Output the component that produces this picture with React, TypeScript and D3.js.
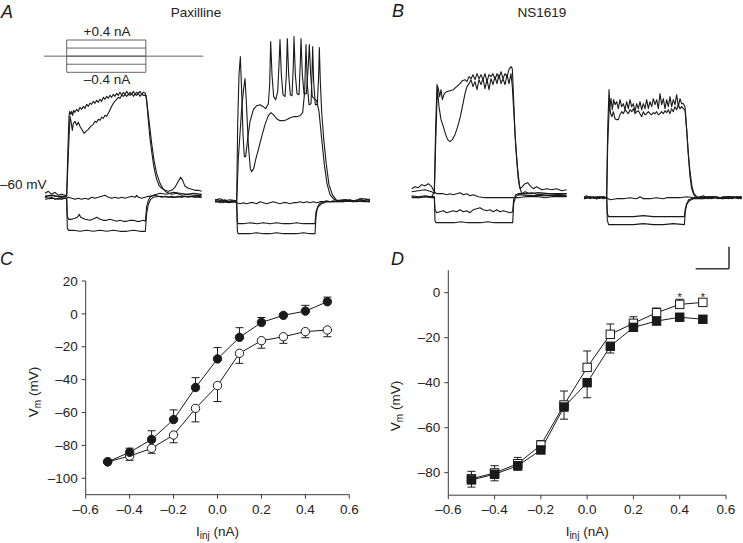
import React from 'react';
import * as d3 from 'd3';

type P = [number, number];

// ---------- Panel A / B traces: time (ms, 0 = step onset), membrane potential (mV) ----------
const AL1: P[] = [[-130,-55],[-110,-53],[-90,-56],[-70,-54],[-50,-57],[-30,-56],[-10,-57],[0,-57],[8,-8],[14,22],[18,27],[24,24],[30,27],[36,23],[42,28],[50,26],[60,29],[70,27],[80,31],[90,29],[100,32],[110,30],[120,34],[130,32],[140,35],[150,34],[160,37],[170,35],[180,38],[190,36],[200,39],[210,37],[220,41],[230,39],[240,42],[250,40],[260,43],[270,41],[280,44],[290,42],[300,45],[310,43],[320,46],[330,43],[340,46],[350,44],[360,47],[370,44],[380,46],[390,44],[400,47],[410,44],[420,46],[430,45],[440,47],[450,44],[460,46],[472,45],[480,38],[490,18],[500,0],[510,-13],[520,-25],[530,-34],[540,-41],[554,-47],[570,-50],[590,-52],[610,-53],[630,-52],[650,-49],[670,-43],[684,-39],[696,-42],[710,-48],[730,-50],[750,-51],[770,-52],[790,-52],[810,-53]];
const AL2: P[] = [[-130,-58],[-100,-57],[-70,-58],[-40,-58],[0,-58],[12,-8],[20,22],[26,17],[34,8],[40,15],[50,17],[60,13],[70,16],[80,12],[90,9],[104,5],[116,7],[130,9],[144,12],[160,14],[170,17],[180,16],[190,19],[200,18],[210,21],[220,20],[230,23],[240,22],[256,27],[270,32],[284,36],[300,39],[310,41],[320,40],[330,43],[340,42],[350,44],[360,42],[370,44],[380,43],[390,45],[400,42],[410,44],[420,43],[430,45],[440,42],[450,44],[460,43],[476,43],[484,32],[496,15],[510,-5],[524,-22],[540,-35],[560,-45],[580,-51],[600,-54],[630,-56],[660,-55],[690,-57],[720,-56],[760,-57],[810,-57]];
const AL3: P[] = [[-130,-59],[-110,-60],[-90,-59],[-70,-61],[-50,-60],[-30,-61],[-10,-60],[0,-60],[10,-59],[30,-60],[50,-61],[70,-60],[90,-61],[110,-60],[130,-61],[150,-59],[170,-60],[190,-59],[210,-58],[230,-57],[250,-59],[270,-60],[290,-59],[310,-60],[330,-59],[350,-60],[370,-59],[390,-58],[410,-59],[420,-57],[430,-59],[450,-60],[470,-59],[490,-58],[510,-58],[530,-57],[550,-58],[570,-59],[590,-58],[610,-59],[630,-58],[650,-59],[670,-58],[690,-59],[710,-58],[730,-59],[750,-58],[770,-59],[790,-58],[810,-59]];
const AL4: P[] = [[-130,-58],[-80,-57],[-40,-59],[0,-60],[4,-78],[12,-81],[30,-81],[50,-80],[64,-79],[76,-76],[84,-79],[110,-81],[140,-82],[170,-80],[180,-79],[200,-81],[220,-82],[240,-82],[260,-81],[280,-82],[300,-83],[320,-82],[340,-83],[360,-83],[380,-82],[400,-82],[420,-83],[440,-83],[460,-82],[472,-83],[480,-68],[490,-62],[504,-58],[520,-57],[540,-56],[560,-55],[600,-56],[640,-54],[680,-55],[720,-56],[760,-55],[810,-56]];
const AL5: P[] = [[-130,-61],[-90,-60],[-50,-61],[-10,-60],[0,-60],[4,-90],[12,-92],[40,-92],[80,-93],[120,-92],[160,-93],[200,-92],[240,-93],[280,-92],[320,-93],[360,-93],[400,-92],[440,-93],[472,-93],[480,-75],[490,-66],[504,-61],[520,-59],[560,-58],[640,-59],[720,-58],[810,-59]];

const AR1: P[] = [[-130,-58],[-100,-57],[-70,-59],[-40,-58],[0,-59],[6,17],[14,67],[22,85],[30,50],[38,7],[46,-15],[54,-15],[66,3],[80,20],[100,32],[120,36],[140,37],[160,35],[174,33],[190,38],[198,57],[204,100],[212,67],[222,45],[234,42],[246,50],[254,77],[260,102],[268,67],[278,47],[290,45],[298,67],[304,103],[312,67],[322,47],[332,46],[340,77],[344,105],[352,67],[362,48],[374,47],[382,80],[386,103],[394,67],[404,48],[418,48],[430,77],[436,97],[444,67],[454,45],[466,43],[480,41],[494,30],[510,3],[526,-23],[542,-42],[560,-53],[580,-57],[600,-59],[650,-58],[700,-59],[750,-57],[800,-58]];
const AR2: P[] = [[-130,-60],[-90,-59],[-50,-61],[0,-60],[10,-17],[30,33],[42,53],[50,63],[58,40],[70,-3],[82,-27],[90,-30],[102,-27],[114,-18],[130,-8],[150,5],[170,17],[190,26],[206,29],[220,27],[240,23],[260,21],[280,21],[300,22],[320,24],[340,25],[360,25],[380,26],[396,29],[408,50],[416,97],[424,57],[434,37],[446,38],[452,67],[456,95],[462,60],[472,37],[484,37],[492,67],[496,94],[502,60],[510,30],[522,3],[538,-23],[554,-43],[574,-53],[596,-58],[620,-60],[670,-59],[720,-60],[770,-59],[800,-60]];
const AR3: P[] = [[-130,-59],[-110,-58],[-90,-60],[-70,-58],[-50,-60],[-30,-59],[-10,-60],[0,-61],[20,-62],[40,-61],[60,-62],[80,-61],[100,-61],[120,-62],[140,-60],[160,-61],[180,-62],[200,-61],[220,-60],[240,-61],[260,-62],[280,-61],[300,-61],[320,-62],[340,-61],[360,-61],[380,-60],[400,-61],[420,-60],[440,-61],[460,-60],[480,-61],[500,-60],[520,-60],[540,-59],[560,-60],[580,-59],[600,-60],[620,-59],[640,-60],[660,-59],[680,-58],[700,-60],[720,-59],[740,-57],[760,-59],[780,-58],[800,-59]];
const AR4: P[] = [[-130,-60],[-90,-59],[-50,-60],[-10,-59],[0,-60],[4,-80],[8,-82],[40,-82],[80,-81],[120,-82],[160,-81],[200,-82],[240,-81],[280,-82],[320,-82],[360,-81],[400,-82],[440,-82],[470,-82],[476,-70],[490,-65],[510,-62],[540,-60],[580,-60],[640,-59],[700,-60],[760,-59],[800,-60]];
const AR5: P[] = [[-130,-60],[-90,-61],[-50,-60],[-10,-60],[0,-60],[4,-89],[8,-92],[40,-92],[80,-92],[120,-91],[160,-92],[200,-92],[240,-91],[280,-92],[320,-92],[360,-92],[400,-91],[440,-92],[470,-92],[476,-75],[484,-66],[496,-62],[520,-60],[580,-60],[640,-60],[700,-59],[760,-60],[800,-60]];

const BL1: P[] = [[-136,-52],[-116,-50],[-96,-51],[-76,-48],[-56,-49],[-36,-47],[-16,-50],[0,-55],[8,10],[16,52],[24,48],[32,40],[40,47],[48,37],[60,43],[74,45],[94,46],[114,47],[134,50],[154,53],[168,56],[184,57],[196,55],[208,60],[220,58],[232,62],[244,57],[256,63],[268,58],[280,62],[292,57],[304,63],[316,55],[328,62],[340,60],[352,63],[364,57],[376,63],[388,58],[400,65],[412,58],[424,63],[436,60],[448,67],[460,70],[468,68],[476,37],[484,3],[494,-23],[504,-43],[514,-52],[528,-50],[544,-47],[560,-46],[574,-49],[594,-52],[614,-50],[644,-53],[674,-52],[704,-53],[734,-52],[764,-54],[794,-53]];
const BL2: P[] = [[-136,-55],[-96,-54],[-56,-53],[-16,-55],[0,-57],[8,-7],[18,48],[28,30],[40,17],[54,10],[68,2],[80,-3],[94,-5],[108,-3],[124,2],[140,10],[156,20],[172,33],[184,43],[196,50],[208,53],[220,57],[232,50],[244,55],[256,47],[268,57],[280,52],[292,58],[304,48],[316,57],[328,47],[340,58],[352,52],[364,60],[376,53],[388,62],[400,53],[412,58],[424,52],[436,62],[448,53],[460,63],[468,50],[476,27],[488,-7],[500,-33],[512,-50],[524,-57],[544,-55],[574,-57],[624,-56],[684,-57],[744,-57],[794,-57]];
const BL3: P[] = [[-136,-60],[-96,-61],[-56,-60],[-16,-60],[0,-55],[14,-57],[34,-57],[54,-57],[74,-58],[94,-57],[114,-58],[134,-57],[154,-56],[174,-58],[194,-57],[214,-59],[234,-58],[264,-60],[304,-61],[344,-61],[384,-61],[424,-61],[464,-61],[504,-61],[544,-60],[584,-60],[624,-60],[664,-61],[704,-60],[744,-60],[794,-60]];
const BL4: P[] = [[-136,-59],[-96,-60],[-56,-59],[-16,-60],[0,-60],[4,-73],[14,-76],[34,-75],[54,-74],[74,-76],[94,-75],[114,-74],[134,-75],[154,-73],[174,-75],[194,-74],[214,-76],[234,-73],[254,-72],[274,-71],[294,-73],[314,-74],[334,-73],[354,-75],[374,-73],[394,-75],[414,-74],[434,-75],[454,-76],[470,-75],[476,-63],[488,-58],[504,-57],[544,-57],[584,-56],[624,-58],[684,-57],[744,-58],[794,-57]];
const BL5: P[] = [[-136,-61],[-96,-61],[-56,-60],[-16,-61],[0,-61],[4,-84],[10,-86],[40,-86],[80,-86],[120,-86],[160,-85],[200,-86],[240,-86],[280,-86],[320,-85],[360,-86],[400,-86],[440,-86],[470,-86],[476,-67],[488,-60],[504,-58],[584,-59],[684,-59],[794,-59]];

const BR1: P[] = [[-136,-60],[-120,-58],[-100,-61],[-80,-59],[-60,-61],[-40,-59],[-20,-61],[0,-60],[6,8],[14,48],[20,31],[26,39],[34,28],[42,38],[50,33],[60,36],[70,29],[80,38],[90,31],[100,34],[110,28],[120,36],[130,29],[140,38],[150,31],[160,34],[170,26],[180,34],[190,29],[200,36],[210,28],[220,34],[230,29],[240,38],[250,29],[260,36],[270,31],[280,39],[290,33],[300,38],[310,29],[320,44],[330,33],[340,39],[350,29],[360,38],[370,31],[380,41],[390,31],[400,38],[410,33],[420,43],[430,31],[440,39],[450,34],[460,34],[470,31],[476,18],[484,-2],[492,-22],[500,-39],[510,-51],[520,-56],[532,-59],[550,-60],[580,-58],[610,-61],[640,-59],[670,-61],[700,-59],[730,-61],[760,-59],[790,-61],[810,-59]];
const BR2: P[] = [[-136,-61],[-100,-59],[-60,-61],[-20,-59],[0,-60],[6,-9],[16,34],[24,24],[32,21],[40,26],[50,19],[60,18],[70,18],[80,23],[90,26],[100,24],[110,28],[120,26],[130,24],[140,28],[150,26],[160,29],[170,24],[180,26],[190,27],[200,24],[210,21],[220,26],[230,23],[240,24],[250,26],[260,24],[270,23],[280,25],[290,24],[300,26],[310,23],[320,24],[330,26],[340,24],[350,27],[360,25],[370,28],[380,24],[390,29],[400,26],[410,31],[420,28],[430,33],[440,29],[450,31],[460,29],[470,28],[480,8],[490,-16],[500,-34],[512,-49],[524,-56],[540,-59],[570,-61],[600,-59],[630,-61],[660,-59],[690,-61],[720,-59],[750,-61],[780,-59],[810,-60]];
const BR3: P[] = [[-136,-59],[-100,-60],[-60,-59],[0,-60],[20,-62],[60,-61],[100,-61],[140,-60],[180,-61],[200,-59],[220,-61],[260,-61],[300,-60],[340,-61],[360,-60],[400,-60],[440,-60],[480,-59],[520,-60],[560,-59],[600,-60],[640,-59],[680,-60],[720,-59],[760,-60],[810,-59]];
const BR4: P[] = [[-136,-60],[-100,-59],[-60,-60],[-20,-59],[0,-60],[4,-76],[12,-79],[40,-79],[100,-79],[160,-79],[220,-78],[280,-79],[340,-79],[400,-79],[466,-79],[472,-71],[480,-66],[492,-62],[510,-61],[560,-60],[620,-59],[680,-60],[740,-59],[810,-60]];
const BR5: P[] = [[-136,-61],[-100,-60],[-60,-61],[-20,-60],[0,-60],[4,-83],[12,-87],[40,-87],[100,-87],[160,-87],[220,-86],[280,-87],[340,-87],[400,-86],[466,-87],[472,-74],[480,-67],[496,-63],[520,-61],[580,-61],[640,-60],[700,-61],[760,-60],[810,-61]];

// Stimulus protocol (nA)
const stimLevels = [0.4, 0.2, 0, -0.2, -0.4];
const stimWindow = [-136, 819];
const stimStep = [0, 475];

// Scale bar
const scaleBarMs = 200;
const scaleBarMv = 20;

// ---------- Panels C / D: I-V data ----------
const currents = [-0.5, -0.4, -0.3, -0.2, -0.1, 0, 0.1, 0.2, 0.3, 0.4, 0.5];
const xTicks = [-0.6, -0.4, -0.2, 0, 0.2, 0.4, 0.6];
const cYTicks = [20, 0, -20, -40, -60, -80, -100];
const dYTicks = [0, -20, -40, -60, -80];

const cFilled = [-90, -84.2, -76.4, -64.3, -44.8, -27.4, -14.3, -5.2, -0.9, 1.7, 7.4];
const cFilledErr = [0, 2.5, 5.3, 5.9, 6, 6.9, 5.9, 3, 1.2, 3.5, 2.8];
const cOpen = [-90, -86.5, -81.8, -73.7, -57.5, -43.6, -24, -16.3, -13.9, -10.8, -9.8];
const cOpenErr = [0, 2.6, 3, 4.7, 8.2, 9.7, 6.1, 4.6, 4, 3.7, 4.1];

const dFilled = [-83.2, -80.7, -76.9, -69.9, -50.8, -40, -23.8, -15.4, -12.6, -10.9, -11.8];
const dFilledErr = [3.2, 2.9, 2, 1, 5.4, 6.7, 3, 1, 0.5, 0.5, 0.5];
const dOpen = [-82.7, -80.1, -76, -67.7, -49.9, -33.2, -18.5, -13.6, -8.9, -5.2, -4.3];
const dOpenErr = [3.3, 3.2, 2.8, 2, 6.2, 7.3, 4.6, 2.9, 2.1, 2.3, 1.5];
const dStars = [0.4, 0.5];

const FONT = "'Liberation Sans', Arial, Helvetica, sans-serif";
const INK = '#1a1a1a';
const AXIS = '#3a3a3a';

function TraceGroup({ origin, traces }: { origin: [number, number]; traces: P[][] }) {
  const x = d3.scaleLinear().domain([0, 600]).range([origin[0], origin[0] + 100]);
  const y = d3.scaleLinear().domain([-60, 40]).range([origin[1], origin[1] - 100]);
  const line = d3.line<P>().x(d => x(d[0])).y(d => y(d[1]));
  return (
    <g>
      {traces.map((t, i) => (
        <path key={i} d={line(t) || ''} fill="none" stroke={INK} strokeWidth={1.1} strokeLinejoin="round" />
      ))}
    </g>
  );
}

const fmtX = (v: number) => {
  const s = d3.format('.1f')(Math.abs(v));
  return v < -1e-9 ? '\u2013' + s : s;
};
const fmtY = (v: number) => (v < 0 ? '\u2013' + Math.abs(v) : String(v));

function IVPanel(props: {
  x0: number; x1: number; yDomain: [number, number]; yTop: number; yBottom: number;
  yTicks: number[]; yTitleCenter: number; yTitleX: number;
  a: number[]; aErr: number[]; aDir: number;
  b: number[]; bErr: number[]; bDir: number;
  shape: 'circle' | 'square'; stars?: number[];
}) {
  const { x0, x1, yDomain, yTop, yBottom, yTicks, shape } = props;
  const x = d3.scaleLinear().domain([-0.6, 0.6]).range([x0, x1]);
  const y = d3.scaleLinear().domain(yDomain).range([yBottom, yTop]);
  const line = d3.line<number>().x((_, i) => x(currents[i])).y(d => y(d));
  const tickLen = 4;
  const fs = 13.5;

  const errBars = (vals: number[], errs: number[], dir: number, key: string) =>
    vals.map((v, i) => {
      if (errs[i] <= 0) return null;
      const yy = y(v + dir * errs[i]);
      const cx = x(currents[i]);
      return (
        <g key={key + i} stroke={INK} strokeWidth={1}>
          <line x1={cx} x2={cx} y1={y(v)} y2={yy} />
          <line x1={cx - 4} x2={cx + 4} y1={yy} y2={yy} />
        </g>
      );
    });

  const markers = (vals: number[], filled: boolean, key: string) =>
    vals.map((v, i) => {
      const cx = x(currents[i]);
      const cy = y(v);
      return shape === 'circle' ? (
        <circle key={key + i} cx={cx} cy={cy} r={4.2} fill={filled ? INK : '#fff'} stroke={INK} strokeWidth={1} />
      ) : (
        <rect key={key + i} x={cx - 4.2} y={cy - 4.2} width={8.4} height={8.4} fill={filled ? INK : '#fff'} stroke={INK} strokeWidth={1} />
      );
    });

  return (
    <g fontFamily={FONT} fill={INK}>
      {/* axes */}
      <line x1={x0} x2={x0} y1={yTop} y2={yBottom} stroke={AXIS} strokeWidth={1} />
      <line x1={x0} x2={x1} y1={yBottom} y2={yBottom} stroke={AXIS} strokeWidth={1} />
      {yTicks.map(t => (
        <g key={'yt' + t}>
          <line x1={x0 - tickLen} x2={x0} y1={y(t)} y2={y(t)} stroke={AXIS} />
          <text x={x0 - 8} y={y(t)} dy="0.35em" textAnchor="end" fontSize={fs} fill="#222">{fmtY(t)}</text>
        </g>
      ))}
      {xTicks.map(t => (
        <g key={'xt' + t}>
          <line x1={x(t)} x2={x(t)} y1={yBottom} y2={yBottom + tickLen} stroke={AXIS} />
          <text x={x(t)} y={yBottom + 19} textAnchor="middle" fontSize={fs} fill="#222">{fmtX(t)}</text>
        </g>
      ))}
      <text x={(x0 + x1) / 2} y={536} textAnchor="middle" fontSize={fs} fill="#222">
        I<tspan fontSize={10} dy={3}>inj</tspan><tspan dy={-3}> (nA)</tspan>
      </text>
      <text transform={`translate(${props.yTitleX},${props.yTitleCenter}) rotate(-90)`} textAnchor="middle" fontSize={fs} fill="#222">
        V<tspan fontSize={10} dy={3}>m</tspan><tspan dy={-3}> (mV)</tspan>
      </text>
      {/* series b (drawn first), then a */}
      <path d={line(props.b) || ''} fill="none" stroke={INK} strokeWidth={1} />
      {errBars(props.b, props.bErr, props.bDir, 'be')}
      <path d={line(props.a) || ''} fill="none" stroke={INK} strokeWidth={1} />
      {errBars(props.a, props.aErr, props.aDir, 'ae')}
      {markers(props.b, false, 'bm')}
      {markers(props.a, true, 'am')}
      {props.stars && props.stars.map(s => {
        const i = currents.findIndex(c => Math.abs(c - s) < 1e-9);
        const v = props.b[i] + props.bErr[i];
        return <text key={'st' + s} x={x(s)} y={y(v) + 2} textAnchor="middle" fontSize={11} fill={INK}>*</text>;
      })}
    </g>
  );
}

export default function App() {
  // stimulus protocol scales (shares the time scale of the left Paxilline traces)
  const sx = d3.scaleLinear().domain([0, 600]).range([66.67, 166.67]);
  const sy = d3.scaleLinear().domain([-0.4, 0.4]).range([72.3, 40]);

  const sbX = d3.scaleLinear().domain([0, 600]).range([0, 100]);
  const sbY = d3.scaleLinear().domain([0, 100]).range([0, 100]);

  return (
    <svg width={743} height={543} viewBox="0 0 743 543"
      style={{ position: 'absolute', left: 0, top: 0, background: '#fff' }}>
      <rect width={743} height={543} fill="#fff" />
      {/* panel letters */}
      <g fontFamily={FONT} fontStyle="italic" fontSize={18} fill={INK}>
        <text x={1} y={18}>A</text>
        <text x={392} y={17}>B</text>
        <text x={0} y={265}>C</text>
        <text x={391} y={265}>D</text>
      </g>
      <g fontFamily={FONT} fontSize={13.5} fill="#222">
        <text x={196} y={17} textAnchor="middle">Paxilline</text>
        <text x={542} y={17} textAnchor="middle">NS1619</text>
        <text x={107} y={36} textAnchor="middle">+0.4 nA</text>
        <text x={107} y={84} textAnchor="middle">{'\u20130.4 nA'}</text>
        <text x={0} y={189}>{'\u201360 mV'}</text>
      </g>

      {/* stimulus protocol */}
      <g stroke="#555" strokeWidth={0.9} fill="none">
        <line x1={sx(stimWindow[0])} x2={sx(stimWindow[1])} y1={sy(0)} y2={sy(0)} />
        {stimLevels.map(l => (
          <line key={l} x1={sx(stimStep[0])} x2={sx(stimStep[1])} y1={sy(l)} y2={sy(l)} />
        ))}
        <line x1={sx(stimStep[0])} x2={sx(stimStep[0])} y1={sy(0.4)} y2={sy(-0.4)} />
        <line x1={sx(stimStep[1])} x2={sx(stimStep[1])} y1={sy(0.4)} y2={sy(-0.4)} />
      </g>

      <TraceGroup origin={[66.67, 198.33]} traces={[AL3, AL4, AL5, AL2, AL1]} />
      <TraceGroup origin={[236.67, 201.67]} traces={[AR3, AR4, AR5, AR2, AR1]} />
      <TraceGroup origin={[434.33, 196.67]} traces={[BL3, BL4, BL5, BL2, BL1]} />
      <TraceGroup origin={[606.67, 197.67]} traces={[BR3, BR4, BR5, BR2, BR1]} />

      {/* scale bar */}
      <g stroke="#3a3a3a" strokeWidth={1.6} fill="none">
        <line x1={729 - sbX(scaleBarMs)} x2={729} y1={268.7} y2={268.7} />
        <line x1={729} x2={729} y1={268.7} y2={268.7 - sbY(scaleBarMv) * 1.1} />
      </g>

      <IVPanel x0={85.7} x1={349.3} yDomain={[-110, 20]} yTop={281} yBottom={494.7}
        yTicks={cYTicks} yTitleCenter={392} yTitleX={38}
        a={cFilled} aErr={cFilledErr} aDir={1}
        b={cOpen} bErr={cOpenErr} bDir={-1} shape="circle" />
      <IVPanel x0={448.3} x1={726} yDomain={[-90, 10]} yTop={270.2} yBottom={495.2}
        yTicks={dYTicks} yTitleCenter={406} yTitleX={400}
        a={dFilled} aErr={dFilledErr} aDir={-1}
        b={dOpen} bErr={dOpenErr} bDir={1} shape="square" stars={dStars} />
    </svg>
  );
}
